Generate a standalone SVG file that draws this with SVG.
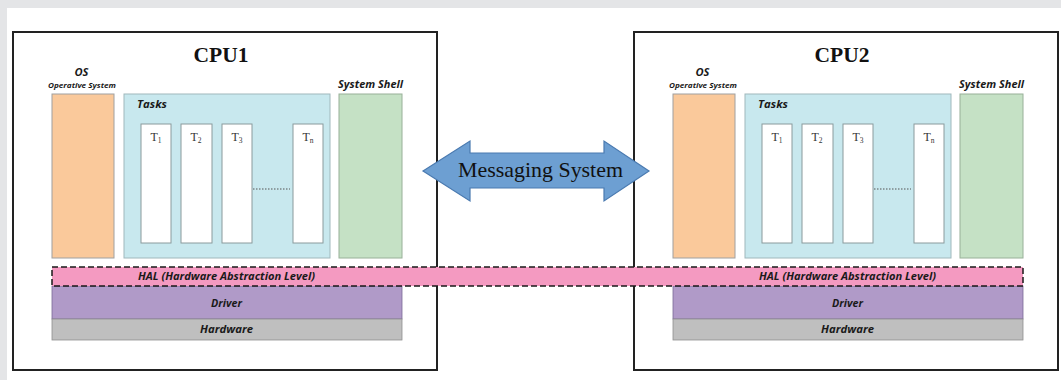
<svg xmlns="http://www.w3.org/2000/svg" width="1061" height="380" viewBox="0 0 1061 380">
  <style>
    .cpu { fill: #ffffff; stroke: #222222; stroke-width: 2; }
    .title { font-family: "Liberation Serif", serif; font-weight: bold; font-size: 21.5px; fill: #111; text-anchor: middle; }
    .lbl { font-family: "Open Sans", Lato, sans-serif; font-weight: bold; font-style: italic; fill: #1a1a1a; text-anchor: middle; }
    .lbl.start { text-anchor: start; }
    .os { fill: #fac99b; stroke: #a0a0a0; stroke-width: 1; }
    .tasks { fill: #c8e8ee; stroke: #a0b8bc; stroke-width: 1; }
    .task { fill: #ffffff; stroke: #8a9a9c; stroke-width: 1; }
    .shell { fill: #c5e1c5; stroke: #98b098; stroke-width: 1; }
    .driver { fill: #b09ac8; stroke: #7a6a96; stroke-width: 0.8; }
    .hw { fill: #bfbfbf; stroke: #909090; stroke-width: 0.8; }
    .tname { font-family: "Liberation Serif", serif; font-size: 12px; fill: #333; text-anchor: middle; }
    .hal { fill: #f49ac1; stroke: #1a1a1a; stroke-width: 1.5; stroke-dasharray: 6 3; }
    .msg { fill: #6d9fd2; stroke: #4a7ab0; stroke-width: 1.2; }
  </style>

  <!-- page background -->
  <rect x="0" y="0" width="1061" height="380" fill="#ffffff"/>
  <rect x="0" y="0" width="1061" height="8" fill="#e4e5e7"/>
  <rect x="0" y="0" width="7" height="380" fill="#e4e5e7"/>

  <!-- CPU1 -->
  <g id="cpu1">
    <rect class="cpu" x="13" y="32" width="424" height="338"/>
    <text class="title" x="221" y="62">CPU1</text>
    <text class="lbl" x="81.5" y="76" font-size="10" textLength="14" lengthAdjust="spacingAndGlyphs">OS</text>
    <text class="lbl" x="82" y="88" font-size="6.5" textLength="68" lengthAdjust="spacingAndGlyphs">Operative System</text>
    <rect class="os" x="52" y="94" width="62" height="164"/>
    <rect class="tasks" x="124" y="94" width="206" height="164"/>
    <text class="lbl start" x="137" y="108" font-size="10" textLength="30" lengthAdjust="spacingAndGlyphs">Tasks</text>
    <rect class="task" x="141" y="124" width="30" height="119"/>
    <rect class="task" x="181" y="124" width="31" height="119"/>
    <rect class="task" x="222" y="124" width="30" height="119"/>
    <rect class="task" x="293" y="124" width="30" height="119"/>
    <text class="tname" x="156" y="141">T<tspan font-size="7.5" dy="2">1</tspan></text>
    <text class="tname" x="196" y="141">T<tspan font-size="7.5" dy="2">2</tspan></text>
    <text class="tname" x="237" y="141">T<tspan font-size="7.5" dy="2">3</tspan></text>
    <text class="tname" x="308" y="141">T<tspan font-size="7.5" dy="2">n</tspan></text>
    <line x1="253" y1="189" x2="290" y2="189" stroke="#555" stroke-width="1" stroke-dasharray="1.5 1.5"/>
    <text class="lbl" x="370.5" y="88" font-size="10" textLength="65" lengthAdjust="spacingAndGlyphs">System Shell</text>
    <rect class="shell" x="339" y="94" width="63" height="164"/>
    <rect class="driver" x="52" y="286" width="350" height="33"/>
    <text class="lbl" x="226.5" y="307" font-size="10" textLength="31" lengthAdjust="spacingAndGlyphs">Driver</text>
    <rect class="hw" x="52" y="319" width="350" height="21"/>
    <text class="lbl" x="226.5" y="333" font-size="10" textLength="53" lengthAdjust="spacingAndGlyphs">Hardware</text>
  </g>

  <!-- CPU2 -->
  <g id="cpu2">
    <rect class="cpu" x="634" y="32" width="424" height="338"/>
    <text class="title" x="842" y="62">CPU2</text>
    <text class="lbl" x="702.5" y="76" font-size="10" textLength="14" lengthAdjust="spacingAndGlyphs">OS</text>
    <text class="lbl" x="703" y="88" font-size="6.5" textLength="68" lengthAdjust="spacingAndGlyphs">Operative System</text>
    <rect class="os" x="673" y="94" width="62" height="164"/>
    <rect class="tasks" x="745" y="94" width="206" height="164"/>
    <text class="lbl start" x="758" y="108" font-size="10" textLength="30" lengthAdjust="spacingAndGlyphs">Tasks</text>
    <rect class="task" x="762" y="124" width="30" height="119"/>
    <rect class="task" x="802" y="124" width="31" height="119"/>
    <rect class="task" x="843" y="124" width="30" height="119"/>
    <rect class="task" x="914" y="124" width="30" height="119"/>
    <text class="tname" x="777" y="141">T<tspan font-size="7.5" dy="2">1</tspan></text>
    <text class="tname" x="817" y="141">T<tspan font-size="7.5" dy="2">2</tspan></text>
    <text class="tname" x="858" y="141">T<tspan font-size="7.5" dy="2">3</tspan></text>
    <text class="tname" x="929" y="141">T<tspan font-size="7.5" dy="2">n</tspan></text>
    <line x1="874" y1="189" x2="911" y2="189" stroke="#555" stroke-width="1" stroke-dasharray="1.5 1.5"/>
    <text class="lbl" x="991.5" y="88" font-size="10" textLength="65" lengthAdjust="spacingAndGlyphs">System Shell</text>
    <rect class="shell" x="960" y="94" width="63" height="164"/>
    <rect class="driver" x="673" y="286" width="350" height="33"/>
    <text class="lbl" x="847.5" y="307" font-size="10" textLength="31" lengthAdjust="spacingAndGlyphs">Driver</text>
    <rect class="hw" x="673" y="319" width="350" height="21"/>
    <text class="lbl" x="847.5" y="333" font-size="10" textLength="53" lengthAdjust="spacingAndGlyphs">Hardware</text>
  </g>

  <!-- shared hardware abstraction band -->
  <g id="hal">
    <rect class="hal" x="52" y="267" width="971" height="19"/>
    <text class="lbl" x="226.5" y="280" font-size="10" textLength="177" lengthAdjust="spacingAndGlyphs">HAL (Hardware Abstraction Level)</text>
    <text class="lbl" x="847.5" y="280" font-size="10" textLength="177" lengthAdjust="spacingAndGlyphs">HAL (Hardware Abstraction Level)</text>
  </g>

  <!-- messaging link between the CPUs -->
  <g id="connectors">
    <path class="msg" d="M423,171 L470,141 L470,153 L604,153 L604,141 L649,171 L604,201 L604,188 L470,188 L470,201 Z"/>
    <text x="540.5" y="177" font-family="Liberation Serif, serif" font-size="21" fill="#111" text-anchor="middle" textLength="165" lengthAdjust="spacingAndGlyphs">Messaging System</text>
  </g>
</svg>
